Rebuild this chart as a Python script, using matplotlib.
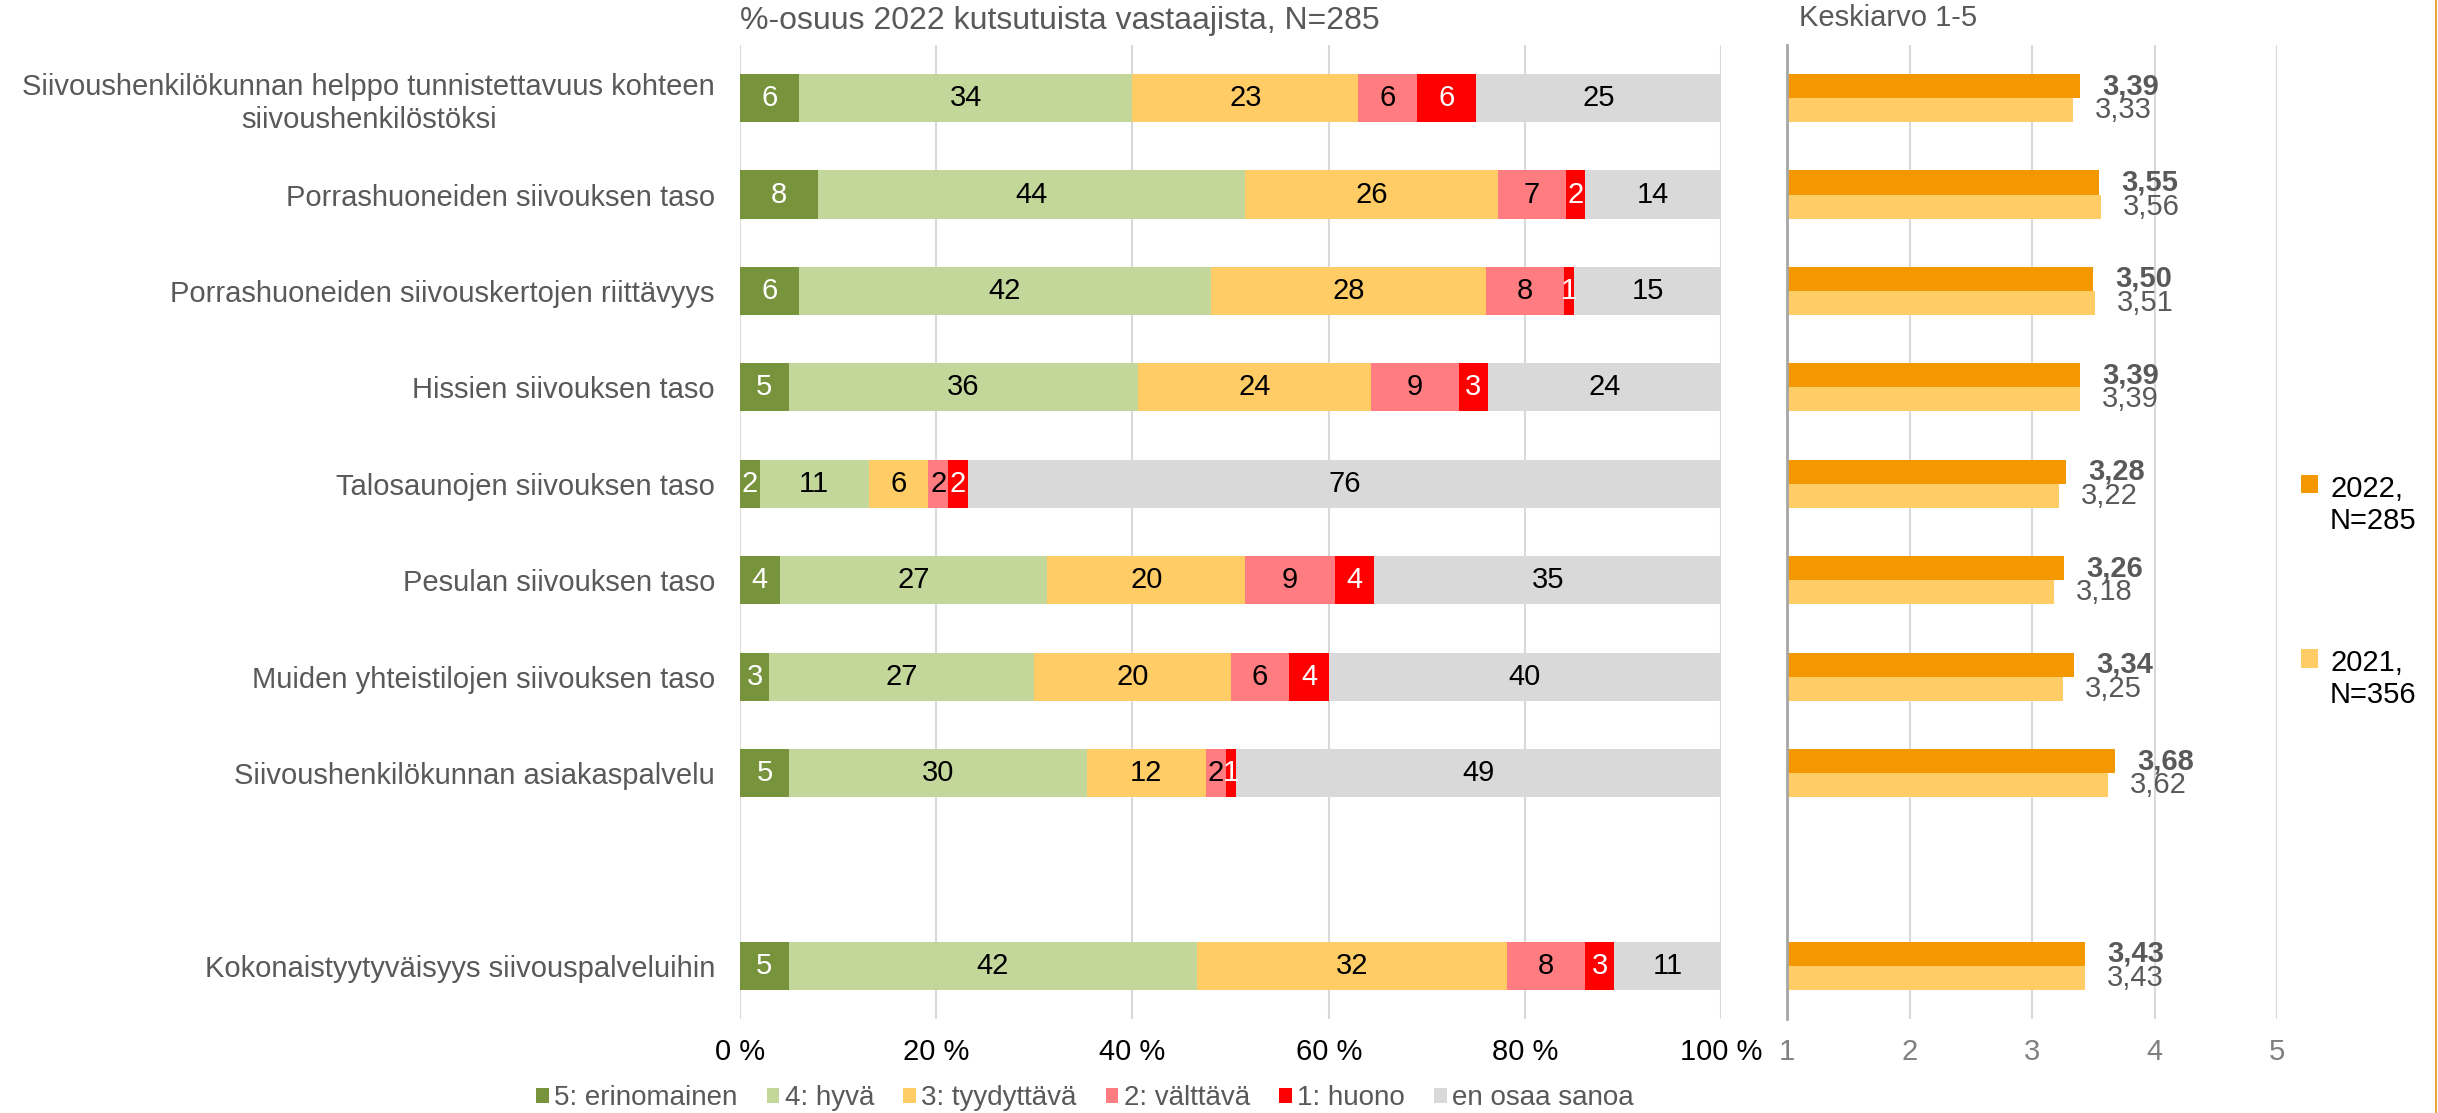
import matplotlib.pyplot as plt
import numpy as np
from matplotlib.lines import Line2D

plt.rcParams['font.family'] = ['Liberation Sans', 'DejaVu Sans']

GREY_TEXT = "#595959"
FS = 21

categories = [
    "Siivoushenkilökunnan helppo tunnistettavuus kohteen\nsiivoushenkilöstöksi",
    "Porrashuoneiden siivouksen taso",
    "Porrashuoneiden siivouskertojen riittävyys",
    "Hissien siivouksen taso",
    "Talosaunojen siivouksen taso",
    "Pesulan siivouksen taso",
    "Muiden yhteistilojen siivouksen taso",
    "Siivoushenkilökunnan asiakaspalvelu",
    "Kokonaistyytyväisyys siivouspalveluihin",
]
# row slots, one slot left empty before the total row
row_pos = [0, 1, 2, 3, 4, 5, 6, 7, 9]

s5 = [6, 8, 6, 5, 2, 4, 3, 5, 5]
s4 = [34, 44, 42, 36, 11, 27, 27, 30, 42]
s3 = [23, 26, 28, 24, 6, 20, 20, 12, 32]
s2 = [6, 7, 8, 9, 2, 9, 6, 2, 8]
s1 = [6, 2, 1, 3, 2, 4, 4, 1, 3]
eos = [25, 14, 15, 24, 76, 35, 40, 49, 11]

series_names = ["5: erinomainen", "4: hyvä", "3: tyydyttävä", "2: välttävä", "1: huono", "en osaa sanoa"]
series_colors = ["#77933C", "#C4D79B", "#FFCC66", "#FF7C80", "#FF0000", "#D9D9D9"]
label_colors = ["white", "black", "black", "black", "white", "black"]

mean_2022 = [3.39, 3.55, 3.50, 3.39, 3.28, 3.26, 3.34, 3.68, 3.43]
mean_2021 = [3.33, 3.56, 3.51, 3.39, 3.22, 3.18, 3.25, 3.62, 3.43]

fig = plt.figure(figsize=(24.38, 11.13), dpi=100)
ax = fig.add_axes([0.3035, 0.0845, 0.4025, 0.875])
ax2 = fig.add_axes([0.733, 0.0845, 0.201, 0.875])

# stacked percentages (rows scaled to 100 %)
data = np.array([s5, s4, s3, s2, s1, eos], dtype=float)
shares = data / data.sum(axis=0) * 100
y = np.array(row_pos, dtype=float)
left = np.zeros(len(categories))
for i in range(len(series_names)):
    bars = ax.barh(y, shares[i], left=left, height=0.5, color=series_colors[i],
                   label=series_names[i])
    ax.bar_label(bars, labels=[str(v) for v in data[i].astype(int)], label_type="center",
                 color=label_colors[i], fontsize=FS)
    left += shares[i]

ax.set_xlim(0, 100)
ax.set_ylim(9.55, -0.55)
ax.set_xticks(range(0, 101, 20), [f"{v} %" for v in range(0, 101, 20)])
ax.set_yticks(y, categories)
for lbl in ax.get_yticklabels():
    lbl.set_multialignment("center")
ax.tick_params(length=0, labelsize=FS)
ax.tick_params(axis="x", pad=14, labelcolor="black")
ax.tick_params(axis="y", pad=18, labelcolor=GREY_TEXT)
ax.grid(axis="x", color="#D9D9D9", lw=1.5)
ax.set_axisbelow(True)
for sp in ax.spines.values():
    sp.set_visible(False)

# averages 1-5
b22 = ax2.barh(y - 0.125, np.array(mean_2022) - 1, left=1, height=0.25, color="#F39800",
               label="2022,\nN=285")
b21 = ax2.barh(y + 0.125, np.array(mean_2021) - 1, left=1, height=0.25, color="#FFCC66",
               label="2021,\nN=356")
ax2.bar_label(b22, labels=[f"{v:.2f}".replace(".", ",") for v in mean_2022], padding=16,
              fontsize=FS, color=GREY_TEXT, fontweight="bold")
ax2.bar_label(b21, labels=[f"{v:.2f}".replace(".", ",") for v in mean_2021], padding=16,
              fontsize=FS, color=GREY_TEXT)
ax2.set_xlim(1, 5)
ax2.set_ylim(9.55, -0.55)
ax2.set_xticks([1, 2, 3, 4, 5])
ax2.set_yticks([])
ax2.tick_params(length=0, labelsize=FS, labelcolor="#808080")
ax2.tick_params(axis="x", pad=14)
ax2.grid(axis="x", color="#D9D9D9", lw=1.5)
ax2.set_axisbelow(True)
for sp in ax2.spines.values():
    sp.set_visible(False)
ax2.spines["left"].set_visible(True)
ax2.spines["left"].set_color("#A6A6A6")
ax2.spines["left"].set_linewidth(2)

fig.text(0.3035, 0.981, "%-osuus 2022 kutsutuista vastaajista, N=285", fontsize=23,
         color=GREY_TEXT, va="center", ha="left")
fig.text(0.738, 0.984, "Keskiarvo 1-5", fontsize=FS, color=GREY_TEXT, va="center", ha="left")

fig.legend(*ax.get_legend_handles_labels(), loc="center", bbox_to_anchor=(0.445, 0.0135),
           ncol=6, frameon=False, fontsize=20, labelcolor=GREY_TEXT, handlelength=0.45,
           handleheight=0.45, handletextpad=0.2, columnspacing=1.05, borderpad=0)
leg2 = fig.legend(handles=[b22, b21], loc="center left", bbox_to_anchor=(0.933, 0.468),
                  frameon=False, fontsize=FS, labelcolor="black", handlelength=0.6,
                  handleheight=0.6, handletextpad=0.4, labelspacing=3.9)
# put each marker next to the first line of its label
for col in leg2._legend_handle_box.get_children():
    for row in col.get_children():
        row.align = "top"

fig.add_artist(Line2D([0.9993, 0.9993], [0, 1], color="#E5A640", lw=1.5))

fig.savefig("out.png", dpi=100)
